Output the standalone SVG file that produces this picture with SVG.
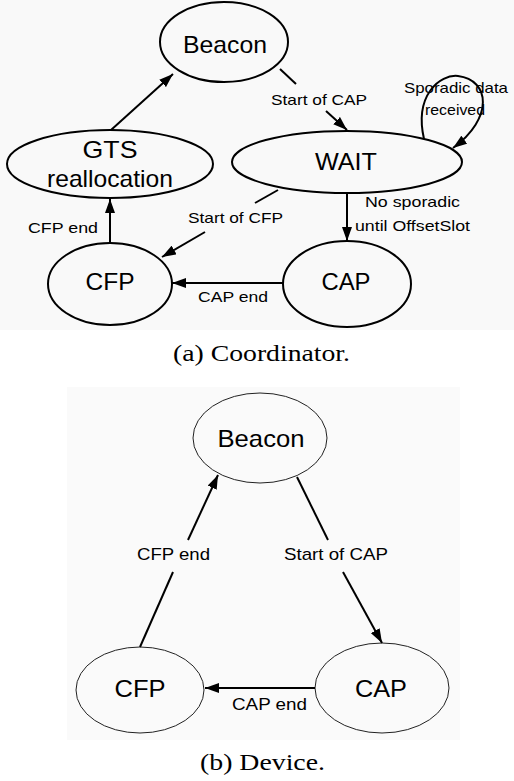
<svg xmlns="http://www.w3.org/2000/svg" width="514" height="781" viewBox="0 0 514 781">
<defs>
<marker id="ah" viewBox="0 0 14 10" refX="14" refY="5" markerWidth="14" markerHeight="10" orient="auto" markerUnits="userSpaceOnUse"><path d="M0,0 L14,5 L0,10 z" fill="#000"/></marker>
</defs>
<style>
.n{fill:none;stroke:#000;stroke-width:2}
.nb{fill:none;stroke:#222;stroke-width:1}
.e{fill:none;stroke:#000;stroke-width:2}
.t{font-family:"Liberation Sans",Arial,sans-serif;font-size:24px;fill:#000;text-anchor:middle}
.l{font-family:"Liberation Sans",Arial,sans-serif;font-size:15px;fill:#000}
.lb{font-family:"Liberation Sans",Arial,sans-serif;font-size:17px;fill:#000}
.c{font-family:"Liberation Serif","Times New Roman",serif;font-size:23px;fill:#000}
</style>
<rect x="0" y="0" width="514" height="781" fill="#fff"/>
<rect x="0" y="0" width="514" height="330" fill="#f9f9f9"/>
<rect x="67" y="387" width="393" height="353" fill="#fafafa"/>

<g id="a-beacon"><ellipse class="n" cx="224" cy="42" rx="64" ry="40"/><text class="t" x="225" y="53" textLength="84" lengthAdjust="spacingAndGlyphs">Beacon</text></g>
<g id="a-gts"><ellipse class="n" cx="110" cy="164" rx="103" ry="34"/><text class="t" x="110" y="158" textLength="55" lengthAdjust="spacingAndGlyphs">GTS</text><text class="t" x="110" y="187" textLength="126" lengthAdjust="spacingAndGlyphs">reallocation</text></g>
<g id="a-wait"><ellipse class="n" cx="347" cy="162" rx="115" ry="31"/><text class="t" x="346" y="170" textLength="62" lengthAdjust="spacingAndGlyphs">WAIT</text></g>
<g id="a-cfp"><ellipse class="n" cx="110" cy="284" rx="62" ry="41"/><text class="t" x="110" y="290" textLength="49" lengthAdjust="spacingAndGlyphs">CFP</text></g>
<g id="a-cap"><ellipse class="n" cx="347" cy="284" rx="64" ry="43"/><text class="t" x="346" y="290" textLength="49" lengthAdjust="spacingAndGlyphs">CAP</text></g>

<g id="a-edges">
<path class="e" d="M111,130 L173,74" marker-end="url(#ah)"/>
<path class="e" d="M280,69 L296,84"/>
<path class="e" d="M326,111 L347,130" marker-end="url(#ah)"/>
<path class="e" d="M424,139 C414,95 440,74 458,76 C490,80 494,118 453,148" marker-end="url(#ah)"/>
<path class="e" d="M278,190 L255,203"/>
<path class="e" d="M205,232 L162,257" marker-end="url(#ah)"/>
<path class="e" d="M347,193 L347,241" marker-end="url(#ah)"/>
<path class="e" d="M283,283 L172,283" marker-end="url(#ah)"/>
<path class="e" d="M110,242 L110,199" marker-end="url(#ah)"/>
<text class="l" x="271" y="105" textLength="96" lengthAdjust="spacingAndGlyphs">Start of CAP</text>
<text class="l" x="404" y="93" textLength="104" lengthAdjust="spacingAndGlyphs">Sporadic data</text>
<text class="l" x="425" y="115" textLength="60" lengthAdjust="spacingAndGlyphs">received</text>
<text class="l" x="188" y="223" textLength="95" lengthAdjust="spacingAndGlyphs">Start of CFP</text>
<text class="l" x="28" y="233" textLength="70" lengthAdjust="spacingAndGlyphs">CFP end</text>
<text class="l" x="365" y="207" textLength="95" lengthAdjust="spacingAndGlyphs">No sporadic</text>
<text class="l" x="355" y="231" textLength="115" lengthAdjust="spacingAndGlyphs">until OffsetSlot</text>
<text class="l" x="198" y="302" textLength="70" lengthAdjust="spacingAndGlyphs">CAP end</text>
</g>
<text class="c" x="173" y="361" textLength="177" lengthAdjust="spacingAndGlyphs">(a) Coordinator.</text>

<g id="b-beacon"><ellipse class="nb" cx="260" cy="438" rx="67" ry="45"/><text class="t" x="261" y="447" textLength="87" lengthAdjust="spacingAndGlyphs">Beacon</text></g>
<g id="b-cfp"><ellipse class="nb" cx="140" cy="690" rx="64" ry="43"/><text class="t" x="140" y="697" textLength="51" lengthAdjust="spacingAndGlyphs">CFP</text></g>
<g id="b-cap"><ellipse class="nb" cx="382" cy="688" rx="67" ry="45"/><text class="t" x="381" y="697" textLength="52" lengthAdjust="spacingAndGlyphs">CAP</text></g>

<g id="b-edges">
<path class="e" d="M140,647 L173,572"/>
<path class="e" d="M188,540 L218,475" marker-end="url(#ah)"/>
<path class="e" d="M297,477 L328,540"/>
<path class="e" d="M343,572 L382,643" marker-end="url(#ah)"/>
<path class="e" d="M315,688 L205,688" marker-end="url(#ah)"/>
<text class="lb" x="137" y="560" textLength="73" lengthAdjust="spacingAndGlyphs">CFP end</text>
<text class="lb" x="284" y="560" textLength="104" lengthAdjust="spacingAndGlyphs">Start of CAP</text>
<text class="lb" x="232" y="710" textLength="75" lengthAdjust="spacingAndGlyphs">CAP end</text>
</g>
<text class="c" x="200" y="770" textLength="125" lengthAdjust="spacingAndGlyphs">(b) Device.</text>
</svg>
